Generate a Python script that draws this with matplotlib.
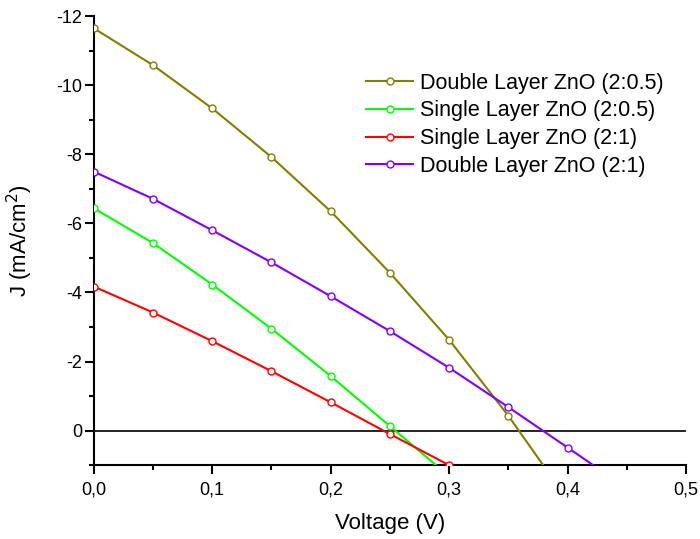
import numpy as np
import matplotlib.pyplot as plt
from matplotlib.ticker import MultipleLocator, FuncFormatter

plt.rcParams['font.family'] = ['Liberation Sans', 'DejaVu Sans']
plt.rcParams['axes.unicode_minus'] = False

# voltage steps (V)
voltage = [0.0, 0.05, 0.1, 0.15, 0.2, 0.25, 0.3, 0.35, 0.4, 0.45]

# current density (mA/cm^2)
double_205 = [-11.65, -10.58, -9.33, -7.92, -6.35, -4.57, -2.63, -0.43, 2.0]
single_205 = [-6.44, -5.43, -4.23, -2.95, -1.58, -0.13, 1.32]
single_21 = [-4.17, -3.42, -2.59, -1.72, -0.82, 0.1, 1.0]
double_21 = [-7.5, -6.71, -5.8, -4.87, -3.89, -2.88, -1.82, -0.68, 0.49, 1.67]

labels = ["Double Layer ZnO (2:0.5)", "Single Layer ZnO (2:0.5)",
          "Single Layer ZnO (2:1)", "Double Layer ZnO (2:1)"]
colors = ["#808000", "#00ff00", "#ff0000", "#8000ff"]
series = [double_205, single_205, single_21, double_21]

fig = plt.figure(figsize=(7, 5.39), dpi=100)
ax = fig.add_axes([0.134, 0.137, 0.846, 0.833])

ax.axhline(0, color="black", lw=1.2, zorder=1)

for vals, lab, col in zip(series, labels, colors):
    ax.plot(voltage[:len(vals)], vals, color=col, lw=1.5, marker="o",
            markersize=5, markerfacecolor="white", markeredgecolor=col,
            markeredgewidth=1.0, label=lab, zorder=3)

ax.set_xlim(0, 0.5)
ax.set_ylim(1, -12)

ax.xaxis.set_major_locator(MultipleLocator(0.1))
ax.xaxis.set_minor_locator(MultipleLocator(0.05))
ax.yaxis.set_major_locator(MultipleLocator(2))
ax.yaxis.set_minor_locator(MultipleLocator(1))
ax.xaxis.set_major_formatter(FuncFormatter(lambda v, p: f"{v:.1f}".replace(".", ",")))
ax.yaxis.set_major_formatter(FuncFormatter(lambda v, p: f"{v:.0f}"))

for s in ["top", "right"]:
    ax.spines[s].set_visible(False)
for s in ["left", "bottom"]:
    ax.spines[s].set_linewidth(1.5)

ax.tick_params(which="major", direction="out", length=6.5, width=1.5, labelsize=13)
ax.tick_params(which="minor", direction="out", length=3.6, width=1.5)
ax.tick_params(axis="x", which="major", pad=5)
ax.tick_params(axis="y", which="major", pad=2)

ax.set_xlabel("Voltage (V)", fontsize=16, labelpad=11)
ax.set_ylabel("J (mA/cm$^2$)", fontsize=16, labelpad=15)

ax.legend(loc="upper left", bbox_to_anchor=(0.445, 0.893), frameon=False,
          fontsize=15.5, handlelength=2.2, handletextpad=0.33, labelspacing=0.31,
          borderaxespad=0)

fig.savefig("out.png", dpi=100)
